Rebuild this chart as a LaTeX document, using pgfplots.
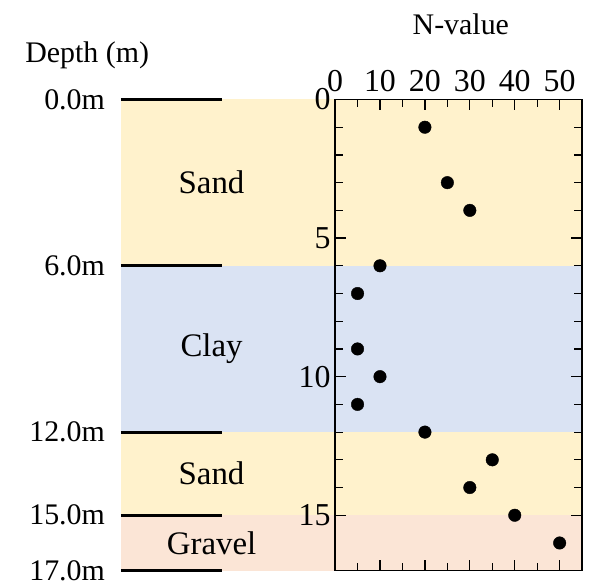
\documentclass[border=0pt]{standalone}
\usepackage{pgfplots}
\pgfplotsset{compat=1.18}
\usepackage{fontspec}
\setmainfont{Liberation Serif}
\definecolor{sandc}{RGB}{255,242,204}
\definecolor{clayc}{RGB}{218,227,243}
\definecolor{gravc}{RGB}{251,229,214}
\begin{document}
\begin{tikzpicture}[font=\fontsize{30}{36}\selectfont]
\begin{axis}[
  scale only axis,
  width=248pt, height=473pt,
  xmin=0, xmax=55, ymin=0, ymax=17,
  y dir=reverse,
  axis on top,
  clip=false,
  xtick={0,10,20,30,40,50},
  xticklabels={0,10,20,30,40,50},
  minor x tick num=1,
  ytick={0,5,10,15},
  yticklabels={0,5,10,15},
  minor y tick num=4,
  xticklabel pos=top,
  tick align=inside,
  tick pos=both,
  major tick length=11pt,
  minor tick length=8pt,
  every tick/.style={black, line width=1.2pt},
  axis line style={line width=1.3pt},
  xticklabel style={font=\fontsize{32}{38}\selectfont, yshift=4pt},
  yticklabel style={font=\fontsize{32}{38}\selectfont, xshift=-1pt},
]
% layer bands
\fill[sandc] (axis cs:-47.7,0) rectangle (axis cs:55,6);
\fill[clayc] (axis cs:-47.7,6) rectangle (axis cs:55,12);
\fill[sandc] (axis cs:-47.7,12) rectangle (axis cs:55,15);
\fill[gravc] (axis cs:-47.7,15) rectangle (axis cs:55,17);
% boundary lines and depth labels
\draw[black, line width=3pt] (axis cs:-47.7,0) -- (axis cs:-25.2,0);
\draw[black, line width=3pt] (axis cs:-47.7,6) -- (axis cs:-25.2,6);
\draw[black, line width=3pt] (axis cs:-47.7,12) -- (axis cs:-25.2,12);
\draw[black, line width=3pt] (axis cs:-47.7,15) -- (axis cs:-25.2,15);
\draw[black, line width=3pt] (axis cs:-47.7,17) -- (axis cs:-25.2,17);
\node[anchor=east, inner sep=0pt] at (axis cs:-51.2,0) {0.0m};
\node[anchor=east, inner sep=0pt] at (axis cs:-51.2,6) {6.0m};
\node[anchor=east, inner sep=0pt] at (axis cs:-51.2,12) {12.0m};
\node[anchor=east, inner sep=0pt] at (axis cs:-51.2,15) {15.0m};
\node[anchor=east, inner sep=0pt] at (axis cs:-51.2,17) {17.0m};
\node[font=\fontsize{33}{38}\selectfont] at (axis cs:-27.5,3) {Sand};
\node[font=\fontsize{33}{38}\selectfont] at (axis cs:-27.5,9) {Clay};
\node[font=\fontsize{33}{38}\selectfont] at (axis cs:-27.5,13.5) {Sand};
\node[font=\fontsize{33}{38}\selectfont] at (axis cs:-27.5,16) {Gravel};
\node at (axis cs:-55.2,-1.6) {Depth (m)};
\node at (axis cs:28,-2.7) {N-value};
\addplot[only marks, mark=*, mark size=6.3pt, black] coordinates {
 (20,1) (25,3) (30,4) (10,6) (5,7) (5,9) (10,10) (5,11)
 (20,12) (35,13) (30,14) (40,15) (50,16)
};
\coordinate (bbsw) at (axis cs:-74.6,17.47);
\coordinate (bbne) at (axis cs:57.2,-3.59);
\end{axis}
\pgfresetboundingbox
\path[use as bounding box] (bbsw) rectangle (bbne);
\end{tikzpicture}
\end{document}
